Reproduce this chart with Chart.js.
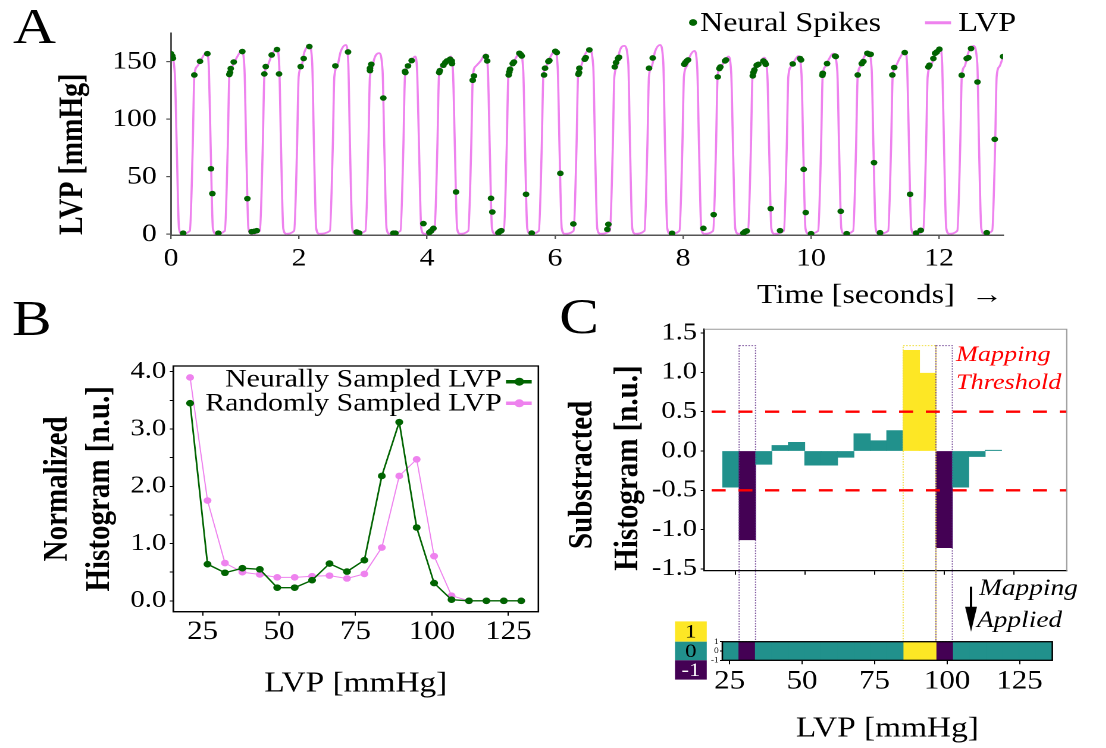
<!DOCTYPE html>
<html>
<head>
<meta charset="utf-8">
<script src="https://cdn.jsdelivr.net/npm/chart.js@4.4.1/dist/chart.umd.min.js"></script>
<style>
  html, body { margin:0; padding:0; background:#fff; overflow:hidden; width:1106px; height:748px; }
  #wrap { position:absolute; left:0; top:0; width:929px; height:748px; transform:scaleX(1.19); transform-origin:0 0; }
  canvas { position:absolute; }
  .plabel { position:absolute; font-family:'Liberation Serif','Times New Roman',serif; font-size:50px; line-height:50px; color:#000; }
</style>
</head>
<body>
<div id="wrap">
  <canvas id="cA" width="900" height="315" style="left:0;top:0"></canvas>
  <canvas id="cB" width="470" height="420" style="left:0;top:290px"></canvas>
  <canvas id="cH" width="459" height="458" style="left:470px;top:290px"></canvas>
  <canvas id="cS" width="459" height="458" style="left:470px;top:290px"></canvas>
  <div class="plabel" style="left:11px;top:1px">A</div>
  <div class="plabel" style="left:10px;top:293px">B</div>
  <div class="plabel" style="left:470px;top:291px">C</div>
</div>
<script>
// ---------------- DATA ----------------
// Panel A: LVP trace (time in s, pressure in mmHg)
const lvpTime = [
0,0.06,0.09,0.125,0.17,
0.294,0.339,0.364,0.409,0.478,0.558,0.592,0.62,0.655,0.70,
0.841,0.886,0.911,0.956,1.025,1.105,1.147,1.175,1.21,1.255,
1.388,1.433,1.458,1.503,1.572,1.652,1.691,1.719,1.754,1.799,
1.924,1.969,1.994,2.039,2.081,2.161,2.206,2.234,2.269,2.314,
2.482,2.527,2.552,2.597,2.65,2.73,2.769,2.797,2.832,2.877,
3.038,3.083,3.108,3.153,3.17,3.25,3.305,3.333,3.368,3.413,
3.585,3.63,3.655,3.70,3.733,3.813,3.847,3.875,3.91,3.955,
4.116,4.161,4.186,4.231,4.29,4.37,4.407,4.435,4.47,4.515,
4.645,4.69,4.715,4.76,4.835,4.915,4.952,4.98,5.015,5.06,
5.2,5.245,5.27,5.315,5.373,5.453,5.503,5.531,5.566,5.611,
5.747,5.792,5.817,5.862,5.92,6.0,6.042,6.07,6.105,6.15,
6.29,6.335,6.36,6.405,6.456,6.536,6.597,6.625,6.66,6.705,
6.857,6.902,6.927,6.972,7.003,7.083,7.144,7.172,7.207,7.252,
7.397,7.442,7.467,7.512,7.561,7.641,7.691,7.719,7.754,7.799,
7.944,7.989,8.014,8.059,8.097,8.177,8.222,8.25,8.285,8.33,
8.47,8.515,8.54,8.585,8.628,8.708,8.753,8.781,8.816,8.861,
9.015,9.06,9.085,9.13,9.186,9.266,9.317,9.345,9.38,9.425,
9.575,9.62,9.645,9.69,9.722,9.802,9.85,9.878,9.913,9.958,
10.111,10.156,10.181,10.226,10.268,10.348,10.41,10.438,10.473,10.518,
10.658,10.703,10.728,10.773,10.815,10.895,10.947,10.975,11.01,11.055,
11.205,11.25,11.275,11.32,11.389,11.469,11.503,11.531,11.566,11.611,
11.752,11.797,11.822,11.867,11.936,12.016,12.05,12.078,12.113,12.158,
12.285,12.33,12.355,12.40,12.456,12.536,12.597,12.625,12.66,12.705,
12.83,12.875,12.9,12.945,13.0];
const lvpValue = [
157,139,75,5,0.5,
3,75,137,146,152.5,158.5,143.5,75,5,0.5,
3,75,137,146,153.4,159.4,144.4,75,5,0.5,
3,75,137,146,155.5,161.5,146.5,75,5,0.5,
3,75,137,146,157.8,163.8,148.8,75,5,0.5,
3,75,137,146,158.6,164.6,149.6,75,5,0.5,
3,75,137,146,151.5,157.5,142.5,75,5,0.5,
3,75,137,146,148.5,154.5,139.5,75,5,0.5,
3,75,137,146,148.5,154.5,139.5,75,5,0.5,
3,75,137,146,150.5,156.5,141.5,75,5,0.5,
3,75,137,146,151.9,157.9,142.9,75,5,0.5,
3,75,137,146,153.4,159.4,144.4,75,5,0.5,
3,75,137,146,154.9,160.9,145.9,75,5,0.5,
3,75,137,146,157.8,163.8,148.8,75,5,0.5,
3,75,137,146,158.6,164.6,149.6,75,5,0.5,
3,75,137,146,153.4,159.4,144.4,75,5,0.5,
3,75,137,146,148.5,154.5,139.5,75,5,0.5,
3,75,137,146,147.6,153.6,138.6,75,5,0.5,
3,75,137,146,149,155,140,75,5,0.5,
3,75,137,146,151.1,157.1,142.1,75,5,0.5,
3,75,137,146,152.5,158.5,143.5,75,5,0.5,
3,75,137,146,153.4,159.4,144.4,75,5,0.5,
3,75,137,146,155.5,161.5,146.5,75,5,0.5,
3,75,137,146,157.8,163.8,148.8,75,5,0.5,
3,75,137,146,154.5];

// Panel A: neural spikes (time, LVP at spike)
const spikeTime = [0.00,0.02,0.03,0.19,0.364,0.453,0.568,0.625,0.646,0.74,0.911,0.922,0.933,0.98,1.114,1.193,1.26,1.30,1.34,1.458,1.48,1.573,1.656,1.688,2.026,2.073,2.161,2.568,2.766,2.90,2.94,3.109,3.109,3.13,3.317,3.474,3.505,3.656,3.661,3.703,3.76,3.943,4.036,4.063,4.10,4.19,4.20,4.255,4.286,4.31,4.36,4.386,4.39,4.453,4.714,4.734,4.92,4.94,5.0,5.02,5.115,5.14,5.16,5.276,5.286,5.297,5.339,5.359,5.443,5.464,5.48,5.547,5.636,5.828,5.844,5.896,5.911,6.005,6.027,6.083,6.286,6.365,6.375,6.38,6.464,6.48,6.536,6.817,6.833,6.933,6.953,6.984,7.0,7.469,7.526,7.828,8.02,8.036,8.058,8.078,8.318,8.479,8.542,8.568,8.583,8.656,8.672,8.943,8.969,8.995,9.089,9.099,9.115,9.151,9.177,9.255,9.281,9.292,9.37,9.516,9.714,9.828,9.844,9.885,9.917,10.0,10.177,10.183,10.25,10.375,10.386,10.464,10.557,10.73,10.792,10.818,10.88,10.911,10.932,10.984,11.078,11.27,11.30,11.464,11.547,11.641,11.714,11.833,11.849,11.911,11.938,11.964,12.005,12.354,12.432,12.458,12.5,12.6,12.745,12.87,13.0];
const spikeValue = [157,155,153,1,138.5,150.4,157,57,35.4,1,138.9,140.6,144.1,149.8,158.9,31,2.3,2.6,3.2,139.4,145.8,155.9,160.6,139.4,145.8,152.8,163.2,146.4,158.5,2,1.1,144.4,142.3,147.8,118.5,1,1,141.7,140.6,146.4,151,9.3,1.7,2.9,5.2,140.6,142.3,147,149.3,150.7,152.2,150.7,148.4,36.8,133.9,137.7,154.5,150.7,31.3,19.4,1.4,2.6,3.2,138.5,141.1,143.5,148.4,149.8,157.4,156.3,155,34.8,1.1,138.5,144.4,150.2,151,159.1,158,53,9,139.1,140.6,144.4,152.2,153.6,160.3,4.3,8.7,145.5,149.3,152.8,153.9,144.4,153.3,0.9,147.8,149.3,150.7,151.6,5.2,17.1,136.8,144.1,145.5,150.7,151.6,1.1,2.3,2.9,137.7,140.6,142.9,147,147.8,150.7,149.3,147.8,22.3,3.2,148.1,152.8,151.6,56.5,18.9,0.6,138.3,140,148.4,155,154.5,20,0.6,138.5,148.4,150.2,157.4,156.5,156.5,62.3,1.4,138.5,145,158,34.8,1.1,3.5,145.5,147,152.8,157.4,158.5,160.9,138.3,152.8,153.6,161.5,132.4,1.4,82.6,154.5];

// Panel B: normalized histograms
const bBins = [20.9,26.6,32.3,38.0,43.7,49.4,55.1,60.8,66.5,72.2,77.9,83.6,89.3,95.0,100.7,106.4,112.1,117.8,123.5,129.2];
const neuralHist = [3.45,0.64,0.49,0.57,0.55,0.23,0.23,0.36,0.65,0.51,0.71,2.18,3.12,1.28,0.31,0.02,0,0,0,0];
const randomHist = [3.90,1.75,0.66,0.50,0.46,0.41,0.41,0.43,0.44,0.39,0.47,0.93,2.18,2.47,0.78,0.09,0,0,0,0];

// Panel C: subtracted histogram (visible bars) and mapping strip
const histBins = [23.3,29.2,35.1,41.0,46.9,52.8,58.7,64.6,70.5,76.4,82.3,88.2,94.1,100.0,105.9,111.8,117.7];
const histValues = [-0.46,-1.13,-0.17,0.07,0.11,-0.18,-0.18,-0.08,0.22,0.13,0.26,1.28,0.99,-1.23,-0.46,-0.07,0.01];
const mapping = [0,-1,0,0,0,0,0,0,0,0,0,1,1,-1,0,0,0,0,0,0];
const stripBins = [25.35,31.04,36.73,42.42,48.11,53.80,59.49,65.18,70.87,76.56,82.25,87.94,93.63,99.32,105.01,110.70,116.39,122.08,127.77,133.46];
const thresholds = [0.5, -0.5];
const highlightTop = 1.34;

// Tick labels
const timeTicks = [0,2,4,6,8,10,12];
const lvpTicks = [0,50,100,150];
const bYTicks = [0,0.5,1,1.5,2,2.5,3,3.5,4];
const lvpXTicks = [25,50,75,100,125];
const cYTicks = [-1.5,-1,-0.5,0,0.5,1,1.5];
const stripYTicks = [-1,0,1];

// ---------------- STYLE ----------------
const NEURAL = '#006400';
const PINK = '#ee82ee';
const VIR = { '1': '#fde725', '0': '#21918c', '-1': '#440154' };
const SERIF = "'Liberation Serif','Times New Roman',serif";
const STRIP_TOP = 351.7;

Chart.defaults.font.family = SERIF;
Chart.defaults.color = '#000';

const common = {
  responsive: false, animation: false, devicePixelRatio: 2, events: [],
  plugins: { legend: { display: false }, tooltip: { enabled: false } }
};
const setTicks = arr => s => { s.ticks = arr.map(v => ({ value: v })); };

// ---------------- PANEL A ----------------
const legendA = {
  id: 'legendA',
  afterDraw(chart) {
    const c = chart.ctx; c.save();
    c.fillStyle = NEURAL; c.beginPath(); c.arc(582.4, 22.5, 3.4, 0, Math.PI * 2); c.fill();
    c.font = '27px ' + SERIF; c.fillStyle = '#000'; c.textBaseline = 'middle'; c.textAlign = 'left';
    c.fillText(chart.data.datasets[0].label, 588.2, 24);
    c.strokeStyle = PINK; c.lineWidth = 3; c.beginPath(); c.moveTo(777.3, 22.7); c.lineTo(799.2, 22.7); c.stroke();
    c.fillText(chart.data.datasets[1].label, 805.3, 24);
    c.restore();
  }
};
new Chart(document.getElementById('cA'), {
  type: 'line',
  data: { datasets: [
    { label: 'Neural Spikes', data: spikeTime.map((t, i) => ({ x: t, y: spikeValue[i] })), showLine: false,
      pointRadius: 2.8, pointBorderWidth: 0, pointBackgroundColor: NEURAL, borderColor: NEURAL },
    { label: 'LVP', data: lvpTime.map((t, i) => ({ x: t, y: lvpValue[i] })), borderColor: PINK, borderWidth: 1.8,
      pointRadius: 0, cubicInterpolationMode: 'monotone', tension: 0.3, fill: false }
  ]},
  options: Object.assign({}, common, {
    layout: { padding: { left: 0, top: 33, right: 57.1, bottom: 0 } },
    scales: {
      x: { type: 'linear', min: 0, max: 13.0, afterFit: s => { s.height = 80; }, afterBuildTicks: setTicks(timeTicks),
        ticks: { font: { size: 25 }, padding: 5, maxRotation: 0, autoSkip: false, callback: v => String(v) },
        grid: { drawOnChartArea: false, tickLength: 4, color: '#555', lineWidth: 1.2 },
        border: { color: '#555', width: 1.5 },
        title: { display: true, text: 'Time [seconds]  \u2192', align: 'end', font: { size: 27 }, padding: { top: 0, bottom: 3 } } },
      y: { type: 'linear', min: -0.6, max: 175, afterFit: s => { s.width = 143.7; }, afterBuildTicks: setTicks(lvpTicks),
        ticks: { font: { size: 25 }, padding: 8, autoSkip: false, callback: v => String(v) },
        grid: { drawOnChartArea: false, tickLength: 4, color: '#555', lineWidth: 1.2 },
        border: { color: '#555', width: 1.5 },
        title: { display: true, text: 'LVP [mmHg]', align: 'start', font: { size: 28, weight: 'bold' }, padding: { top: 45, bottom: 0 } } }
    }
  }),
  plugins: [legendA]
});

// ---------------- PANEL B ----------------
const legendB = {
  id: 'legendB',
  afterDraw(chart) {
    const c = chart.ctx, a = chart.chartArea; c.save();
    c.strokeStyle = '#000'; c.lineWidth = 1.3; c.strokeRect(a.left, a.top, a.right - a.left, a.bottom - a.top);
    c.font = '25px ' + SERIF; c.textAlign = 'right'; c.textBaseline = 'middle'; c.fillStyle = '#000';
    const rows = [[0, 14, 15.7], [1, 38, 37.3]];
    rows.forEach(([i, ty, ly]) => {
      const ds = chart.data.datasets[i];
      c.fillText(ds.label, a.right - 30.8, a.top + ty);
      c.strokeStyle = ds.borderColor; c.lineWidth = 3.5;
      c.beginPath(); c.moveTo(a.right - 27.2, a.top + ly); c.lineTo(a.right - 5.6, a.top + ly); c.stroke();
      c.fillStyle = ds.borderColor; c.beginPath(); c.arc(a.right - 16, a.top + ly, 4, 0, Math.PI * 2); c.fill();
      c.fillStyle = '#000';
    });
    c.restore();
  }
};
new Chart(document.getElementById('cB'), {
  type: 'line',
  data: { datasets: [
    { label: 'Neurally Sampled LVP', data: bBins.map((x, i) => ({ x, y: neuralHist[i] })), borderColor: NEURAL,
      backgroundColor: NEURAL, borderWidth: 1.4, pointRadius: 3.3, pointBorderWidth: 0, pointBackgroundColor: NEURAL, tension: 0 },
    { label: 'Randomly Sampled LVP', data: bBins.map((x, i) => ({ x, y: randomHist[i] })), borderColor: PINK,
      backgroundColor: PINK, borderWidth: 1, pointRadius: 3.3, pointBorderWidth: 0, pointBackgroundColor: PINK, tension: 0 }
  ]},
  options: Object.assign({}, common, {
    layout: { padding: { left: 0, top: 76, right: 17.6, bottom: 0 } },
    scales: {
      x: { type: 'linear', min: 15.4, max: 134.8, afterFit: s => { s.height = 98.3; }, afterBuildTicks: setTicks(lvpXTicks),
        ticks: { font: { size: 26 }, padding: 1, maxRotation: 0, autoSkip: false, callback: v => String(v) },
        grid: { drawOnChartArea: false, tickLength: 4, color: '#000' }, border: { color: '#000', width: 1.3 },
        title: { display: true, text: 'LVP [mmHg]', font: { size: 28 }, padding: { top: 0, bottom: 9 } } },
      y: { type: 'linear', min: -0.19, max: 4.10, afterFit: s => { s.width = 145.6; }, afterBuildTicks: setTicks(bYTicks),
        ticks: { font: { size: 24 }, padding: 3, autoSkip: false, callback: v => (v % 1 === 0 ? v.toFixed(1) : '') },
        grid: { drawOnChartArea: false, tickLength: 3, color: '#000' }, border: { color: '#000', width: 1.3 },
        title: { display: true, text: ['Normalized', 'Histogram [n.u.]'], font: { size: 29, weight: 'bold', lineHeight: 1.22 }, padding: { top: 31, bottom: 0 } } }
    }
  }),
  plugins: [legendB]
});

// ---------------- PANEL C: histogram ----------------
const histDecor = {
  id: 'histDecor',
  afterDatasetsDraw(chart) {
    const c = chart.ctx, a = chart.chartArea, x = chart.scales.x, y = chart.scales.y;
    c.save();
    // highlight rectangles around mapped bins
    const half = (histBins[1] - histBins[0]) / 2;
    let i = 0;
    while (i < histBins.length) {
      if (mapping[i] === 0) { i++; continue; }
      let j = i;
      while (j + 1 < histBins.length && mapping[j + 1] === mapping[i]) j++;
      const l = x.getPixelForValue(histBins[i] - half), r = x.getPixelForValue(histBins[j] + half);
      const t = y.getPixelForValue(highlightTop);
      c.setLineDash([1.3, 1.3]); c.lineWidth = 1;
      c.strokeStyle = mapping[i] > 0 ? 'rgba(240,222,60,0.95)' : 'rgba(95,45,135,0.8)';
      c.strokeRect(l, t, r - l, STRIP_TOP - t);
      i = j + 1;
    }
    // threshold lines
    c.setLineDash([11.8, 10.7]); c.lineDashOffset = -6.2; c.strokeStyle = '#ff0000'; c.lineWidth = 2.4;
    thresholds.forEach(v => {
      const py = y.getPixelForValue(v);
      c.beginPath(); c.moveTo(a.left, py); c.lineTo(a.right, py); c.stroke();
    });
    c.setLineDash([]);
    // top / right frame
    c.strokeStyle = '#999'; c.lineWidth = 1;
    c.beginPath(); c.moveTo(a.left, a.top); c.lineTo(a.right, a.top); c.lineTo(a.right, a.bottom); c.stroke();
    // annotation texts
    c.fillStyle = '#ff0000'; c.font = 'italic 22px ' + SERIF; c.textAlign = 'left'; c.textBaseline = 'middle';
    c.fillText('Mapping', a.right - 93, y.getPixelForValue(1.22));
    c.fillText('Threshold', a.right - 93, y.getPixelForValue(0.86));
    // mapping applied arrow
    const ax = a.right - 80.4;
    c.strokeStyle = '#000'; c.fillStyle = '#000'; c.lineWidth = 2;
    c.beginPath(); c.moveTo(ax, a.bottom + 16); c.lineTo(ax, a.bottom + 40); c.stroke();
    c.beginPath(); c.moveTo(ax - 5, a.bottom + 36); c.lineTo(ax + 5, a.bottom + 36); c.lineTo(ax, a.bottom + 61); c.closePath(); c.fill();
    c.font = 'italic 23px ' + SERIF;
    c.fillText('Mapping', a.right - 73.7, a.bottom + 18.5);
    c.fillText('Applied', a.right - 75.4, a.bottom + 50.3);
    c.restore();
  }
};
new Chart(document.getElementById('cH'), {
  type: 'bar',
  data: { datasets: [
    { label: 'Substracted Histogram', data: histBins.map((b, i) => ({ x: b, y: histValues[i] })),
      backgroundColor: histBins.map((b, i) => VIR[String(mapping[i])]), borderWidth: 0, barPercentage: 1, categoryPercentage: 1 }
  ]},
  options: Object.assign({}, common, {
    layout: { padding: { left: 0, top: 39.3, right: 32.6, bottom: 0 } },
    scales: {
      x: { type: 'linear', offset: false, min: 13.7, max: 144.1, afterFit: s => { s.height = 177.3; }, afterBuildTicks: setTicks(lvpXTicks),
        ticks: { autoSkip: false, maxRotation: 0, callback: () => '' },
        grid: { offset: false, drawOnChartArea: false, tickLength: 4, color: '#000' }, border: { color: '#000', width: 1.3 } },
      y: { type: 'linear', min: -1.523, max: 1.548, afterFit: s => { s.width = 121.8; }, afterBuildTicks: setTicks(cYTicks),
        ticks: { font: { size: 24 }, padding: 3, autoSkip: false, callback: v => v.toFixed(1) },
        grid: { drawOnChartArea: false, tickLength: 3, color: '#000' }, border: { color: '#000', width: 1.3 },
        title: { display: true, text: ['   Substracted', 'Histogram [n.u.]'], align: 'start', font: { size: 29, weight: 'bold', lineHeight: 1.33 }, padding: { top: 0, bottom: 0 } } }
    }
  }),
  plugins: [histDecor]
});

// ---------------- PANEL C: mapping strip ----------------
const stripDecor = {
  id: 'stripDecor',
  afterDraw(chart) {
    const c = chart.ctx, a = chart.chartArea; c.save();
    c.strokeStyle = '#000'; c.lineWidth = 1.3; c.strokeRect(a.left, a.top, a.right - a.left, a.bottom - a.top);
    const bx = a.left - 39.8, bw = 26.7, h = a.bottom - a.top;
    const boxes = [['1', a.top - 20.3, 20.3, '#000'], ['0', a.top, h, '#000'], ['-1', a.bottom, 19.3, '#fff']];
    c.font = '19px ' + SERIF; c.textAlign = 'center'; c.textBaseline = 'middle';
    boxes.forEach(([lab, top, hh, col]) => {
      c.fillStyle = VIR[lab]; c.fillRect(bx, top, bw, hh);
      c.fillStyle = col; c.fillText(lab, bx + bw / 2, top + hh / 2 + 1);
    });
    c.restore();
  }
};
new Chart(document.getElementById('cS'), {
  type: 'bar',
  data: { datasets: [
    { label: 'Mapping', data: stripBins.map((b, i) => ({ x: b, y: [-1, 1] })),
      backgroundColor: mapping.map(m => VIR[String(m)]), borderWidth: 0, barPercentage: 1, categoryPercentage: 1 }
  ]},
  options: Object.assign({}, common, {
    layout: { padding: { left: 0, top: STRIP_TOP, right: 44.7, bottom: 0 } },
    scales: {
      x: { type: 'linear', offset: false, min: 22.5, max: 136.3, afterFit: s => { s.height = 87.7; }, afterBuildTicks: setTicks(lvpXTicks),
        ticks: { font: { size: 26 }, padding: 2, autoSkip: false, maxRotation: 0, callback: v => String(v) },
        grid: { offset: false, drawOnChartArea: false, tickLength: 4, color: '#000' }, border: { color: '#000', width: 1.3 },
        title: { display: true, text: 'LVP [mmHg]', font: { size: 28 }, padding: { top: 0, bottom: 2 } } },
      y: { type: 'linear', min: -1, max: 1, afterFit: s => { s.width = 137.0; }, afterBuildTicks: setTicks(stripYTicks),
        ticks: { font: { size: 8 }, padding: 1, autoSkip: false, callback: v => String(v) },
        grid: { drawOnChartArea: false, tickLength: 2, color: '#000' }, border: { color: '#000', width: 1.3 } }
    }
  }),
  plugins: [stripDecor]
});
</script>
</body>
</html>
